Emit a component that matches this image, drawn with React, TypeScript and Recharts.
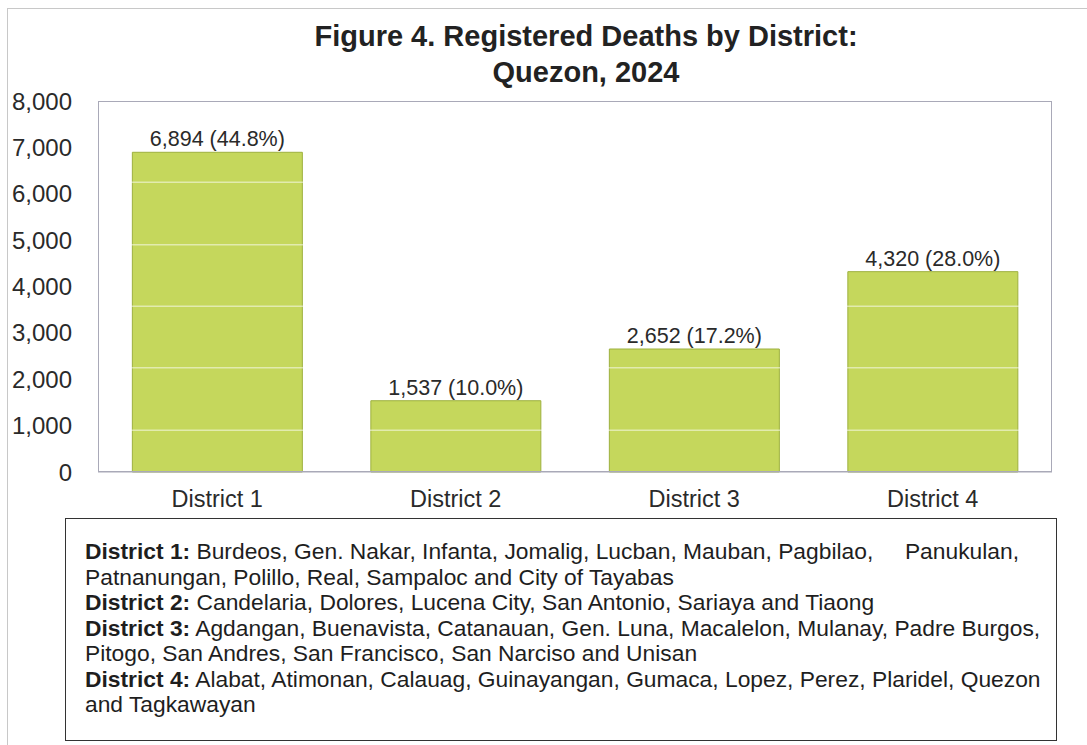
import { BarChart, Bar, XAxis, YAxis, LabelList, ReferenceLine } from 'recharts';

// 区名与登记死亡人数
const districts = ['District 1', 'District 2', 'District 3', 'District 4'];
const deaths = [6894, 1537, 2652, 4320];
const shares = [44.8, 10.0, 17.2, 28.0];
const yTicks = [0, 1000, 2000, 3000, 4000, 5000, 6000, 7000, 8000];
// 柱子里那几条浅色横纹（原图填充图案）
const fillStripes = [900, 2250, 3575, 4900, 6250];

// 下方说明框的每一行：[粗体前缀, 正文]
const noteLines: [string, string][] = [
  ['District 1:', ' Burdeos, Gen. Nakar, Infanta, Jomalig, Lucban, Mauban, Pagbilao,     Panukulan,'],
  ['', 'Patnanungan, Polillo, Real, Sampaloc and City of Tayabas'],
  ['District 2:', ' Candelaria, Dolores, Lucena City, San Antonio, Sariaya and Tiaong'],
  ['District 3:', ' Agdangan, Buenavista, Catanauan, Gen. Luna, Macalelon, Mulanay, Padre Burgos,'],
  ['', 'Pitogo, San Andres, San Francisco, San Narciso and Unisan'],
  ['District 4:', ' Alabat, Atimonan, Calauag, Guinayangan, Gumaca, Lopez, Perez, Plaridel, Quezon'],
  ['', 'and Tagkawayan'],
];

const chartData = districts.map((name, i) => ({
  name,
  deaths: deaths[i],
  label: `${deaths[i].toLocaleString('en-US')} (${shares[i].toFixed(1)}%)`,
}));

const sans = '"Liberation Sans", Arial, sans-serif';

export default function App() {
  return (
    <div style={{ position: 'absolute', left: 0, top: 0, width: 1087, height: 745, background: '#fff', fontFamily: sans, color: '#2a2a2a', overflow: 'hidden' }}>
      {/* 外框 */}
      <div style={{ position: 'absolute', left: 7, top: 8, width: 1090, height: 745, border: '1px solid #c8c8c8' }} />

      {/* 标题 */}
      <div style={{ position: 'absolute', left: 0, top: 18, width: 1172, textAlign: 'center', fontWeight: 'bold', fontSize: 29, lineHeight: '36px', color: '#222' }}>
        Figure 4. Registered Deaths by District:
        <br />
        Quezon, 2024
      </div>

      <div style={{ position: 'absolute', left: 0, top: 0 }}>
        <BarChart width={1087} height={520} data={chartData} margin={{ top: 101, right: 35, bottom: 0, left: 0 }} barCategoryGap="14.4%">
          <XAxis
            dataKey="name"
            height={48}
            axisLine={{ stroke: '#a9a9b8' }}
            tickLine={false}
            tickSize={0}
            tickMargin={18}
            tick={{ fontSize: 23.5, fill: '#2a2a2a', fontFamily: sans }}
          />
          <YAxis
            width={98}
            domain={[0, 8000]}
            ticks={yTicks}
            interval={0}
            axisLine={false}
            tickLine={false}
            tickSize={0}
            tickMargin={26}
            tickFormatter={(v: number) => v.toLocaleString('en-US')}
            tick={{ fontSize: 24, fill: '#2a2a2a', fontFamily: sans }}
          />
          <Bar dataKey="deaths" fill="#c5d75c" stroke="#9db03e" strokeWidth={1} isAnimationActive={false}>
            <LabelList dataKey="label" position="top" offset={6} style={{ fontSize: 21.5, fill: '#2a2a2a', fontFamily: sans }} />
          </Bar>
          {fillStripes.map((v) => (
            <ReferenceLine key={v} y={v} stroke="#ffffff" strokeOpacity={0.5} strokeWidth={1.5} />
          ))}
        </BarChart>
      </div>

      {/* 绘图区边框 */}
      <div style={{ position: 'absolute', left: 98, top: 101, width: 954, height: 371, border: '1px solid #a9a9b8', boxSizing: 'border-box', pointerEvents: 'none' }} />

      {/* 说明框 */}
      <div
        style={{
          position: 'absolute',
          left: 65,
          top: 518,
          width: 992,
          height: 223,
          border: '1.5px solid #333',
          boxSizing: 'border-box',
          padding: '20px 0 0 19px',
          fontSize: 22.8,
          lineHeight: '25.5px',
          color: '#1e1e1e',
          whiteSpace: 'pre',
        }}
      >
        {noteLines.map(([head, body], i) => (
          <div key={i}>
            {head && <b>{head}</b>}
            {body}
          </div>
        ))}
      </div>
    </div>
  );
}
